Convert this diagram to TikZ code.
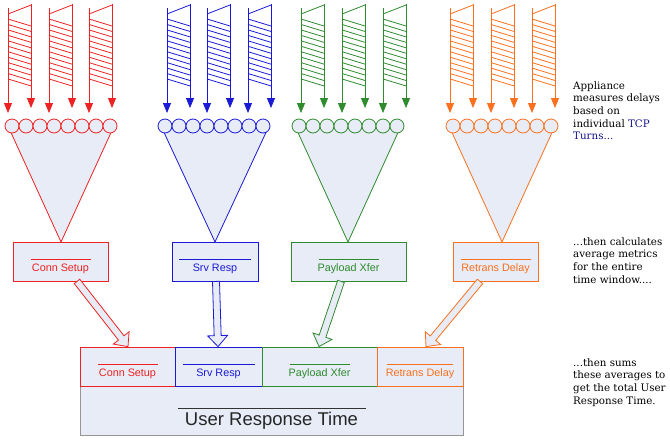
\documentclass[tikz,border=0pt]{standalone}
\usepackage{fontspec}
\setmainfont{DejaVu Serif}
\newfontfamily\sansf{Liberation Sans}
\usetikzlibrary{calc,arrows.meta}
\definecolor{fillc}{RGB}{231,236,247}
\definecolor{cred}{RGB}{238,34,34}
\definecolor{cblue}{RGB}{26,26,214}
\definecolor{cgreen}{RGB}{46,139,46}
\definecolor{corange}{RGB}{250,112,30}
\definecolor{navy}{RGB}{20,20,140}
\definecolor{gframe}{RGB}{150,150,150}
\tikzset{
  wline/.style={draw=#1, line width=0.8pt},
  warrow/.style={draw=#1, fill=#1, line width=0.8pt, -{Triangle[width=8pt,length=10pt]}},
  mbox/.style={draw=#1, fill=fillc, line width=0.8pt, minimum height=39, inner sep=0},
  boxtext/.style={text=#1, inner sep=0, font=\sansf\fontsize{10.8}{12}\selectfont},
  rtext/.style={anchor=north west, inner sep=0, align=left, font=\fontsize{10.3}{12.7}\selectfont},
}
\newcommand\wavecol[2]{% left x, colour
  \draw[warrow=#2] (#1,8) -- (#1,113);
  \draw[warrow=#2] (#1+23,4) -- (#1+23,108);
  \draw[wline=#2] (#1,14) -- (#1+23,5);
  \foreach \k in {0,...,11} \draw[wline=#2] (#1,19+5.45*\k) -- (#1+23,26+5.45*\k);
}
\newcommand\funnel[3]{% x0, x1, colour
  \path[draw=#3, fill=fillc, line width=0.8pt] (#1+3,126) -- (#2-3,126) -- ({(#1+#2)/2},242) -- cycle;
  \foreach \k in {0,...,7} \draw[draw=#3, fill=fillc, line width=0.8pt] (#1+7+14*\k,126) circle[radius=7];
}
\newcommand\harrow[3]{% start, end, colour
  \coordinate (hb) at ($(#2)!11pt!(#1)$);
  \path[draw=#3, fill=fillc, line width=0.8pt]
    ($(#1)!3.5pt!90:(#2)$) -- ($(hb)!3.5pt!90:(#2)$) -- ($(hb)!10pt!90:(#2)$) -- (#2)
    -- ($(hb)!10pt!-90:(#2)$) -- ($(hb)!3.5pt!-90:(#2)$) -- ($(#1)!3.5pt!-90:(#2)$) -- cycle;
}
\newcommand\boxlabel[5]{% node, colour, text, half line width, name
  \node[boxtext=#2] (#5) at ($(#1.center)+(0,7)$) {#3};
  \draw[#2, line width=0.6pt] ($(#1.center)+(-#4,-2)$) -- ($(#1.center)+(#4,-2)$);
}
\begin{document}
\begin{tikzpicture}[x=1pt,y=-1pt]
\useasboundingbox (0,0) rectangle (670,440);
% wave columns
\foreach \c in {8,49,89} {\wavecol{\c}{cred}}
\foreach \c in {167,207,248} {\wavecol{\c}{cblue}}
\foreach \c in {301,342,383} {\wavecol{\c}{cgreen}}
\foreach \c in {450,491,532} {\wavecol{\c}{corange}}
% funnels
\funnel{5}{117}{cred}
\funnel{158}{272}{cblue}
\funnel{292}{404}{cgreen}
\funnel{446}{558}{corange}
% top boxes
\node[mbox=cred, minimum width=95] (t1) at (60.5,261.5) {};
\node[mbox=cblue, minimum width=86] (t2) at (215,261.5) {};
\node[mbox=cgreen, minimum width=115] (t3) at (348.5,261.5) {};
\node[mbox=corange, minimum width=85] (t4) at (495.5,261.5) {};
% bottom boxes
\node[draw=gframe, fill=fillc, line width=0.8pt, minimum width=383, minimum height=49, inner sep=0] (tot) at (271.5,410.5) {};
\node[mbox=cred, minimum width=95] (b1) at (127.5,366.5) {};
\node[mbox=cblue, minimum width=87] (b2) at (218.5,366.5) {};
\node[mbox=cgreen, minimum width=115] (b3) at (319.5,366.5) {};
\node[mbox=corange, minimum width=86] (b4) at (420,366.5) {};
% labels
\boxlabel{t1}{cred}{Conn Setup}{30}{t1l}
\boxlabel{t2}{cblue}{Srv Resp}{36}{t2l}
\boxlabel{t3}{cgreen}{Payload Xfer}{30}{t3l}
\boxlabel{t4}{corange}{Retrans Delay}{35}{t4l}
\boxlabel{b1}{cred}{Conn Setup}{30}{b1l}
\boxlabel{b2}{cblue}{Srv Resp}{36}{b2l}
\boxlabel{b3}{cgreen}{Payload Xfer}{30}{b3l}
\boxlabel{b4}{corange}{Retrans Delay}{33}{b4l}
\node[inner sep=0, text=black!85, font=\sansf\fontsize{18.5}{20}\selectfont] (totl) at ($(tot.center)+(0,10.5)$) {User Response Time};
\draw[black!80, line width=0.6pt] ($(tot.center)+(-94,-2.5)$) -- ($(tot.center)+(94,-2.5)$);
% hollow arrows
\coordinate (r1) at ($(t1.south)+(16.5,0)$);
\coordinate (r2) at ($(b1.north)+(0.5,0)$);
\coordinate (u1) at ($(t2.south)+(1,0)$);
\coordinate (u2) at ($(b2.north)+(-0.5,0)$);
\coordinate (g1) at ($(t3.south)+(-7.5,0)$);
\coordinate (g2) at ($(b3.north)+(-0.5,0)$);
\coordinate (o1) at ($(t4.south)+(-15.5,0)$);
\coordinate (o2) at ($(b4.north)+(6,0)$);
\harrow{r1}{r2}{cred}
\harrow{u1}{u2}{cblue}
\harrow{g1}{g2}{cgreen}
\harrow{o1}{o2}{corange}
% right texts
\node[rtext] (n1) at (573,81) {Appliance\\measures delays\\based on\\individual \textcolor{navy}{TCP}\\\textcolor{navy}{Turns...}};
\node[rtext] (n2) at (573,237) {...then calculates\\average metrics\\for the entire\\time window....};
\node[rtext] (n3) at (573,358) {...then sums\\these averages to\\get the total User\\Response Time.};
\end{tikzpicture}
\end{document}
